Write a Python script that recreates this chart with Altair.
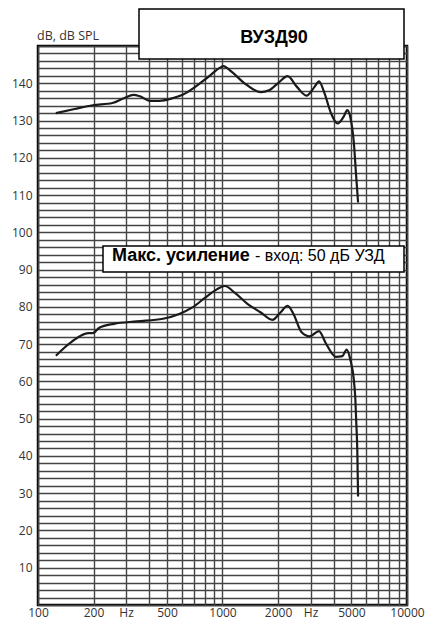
import altair as alt
import pandas as pd

# Upper curve: OSPL90 (dB SPL)
freq_upper = [125, 158, 198, 253, 292, 330, 357, 404, 456, 537,
              608, 715, 841, 971, 1009, 1119, 1316, 1614, 1786, 2018,
              2253, 2525, 2852, 3160, 3333, 3573, 3873, 4200, 4555, 4745,
              4940, 5150, 5300, 5430]
spl_upper = [132.0, 133.1, 134.1, 134.7, 136.0, 136.9, 136.5, 135.3, 135.3, 136.0,
             136.9, 139.1, 141.8, 144.2, 144.6, 143.1, 140.0, 137.6, 138.1, 140.2,
             141.9, 139.1, 136.7, 139.1, 140.5, 137.3, 132.0, 129.2, 131.2, 132.8,
             130.7, 124.1, 115.2, 108.0]

# Lower curve: max gain (dB)
freq_lower = [125, 152, 187, 198, 215, 258, 343, 476, 583, 687,
              807, 931, 1031, 1164, 1370, 1614, 1861, 2061, 2253, 2425,
              2685, 2973, 3333, 3642, 4111, 4467, 4710, 4940, 5150, 5250,
              5300, 5380, 5430]
gain_lower = [66.9, 70.6, 72.95, 72.95, 74.4, 75.45, 76.1, 76.8, 78.1, 79.85,
              82.5, 84.7, 85.6, 83.8, 80.75, 78.5, 76.5, 78.5, 80.3, 78.1,
              73.2, 72.1, 73.5, 70.1, 66.6, 66.8, 68.55, 65.7, 60.4, 55.1,
              49.8, 41.0, 29.1]

x_grid = [100, 200, 300, 400, 500, 600, 700, 800, 900,
          1000, 2000, 3000, 4000, 5000, 6000, 7000, 8000, 9000, 10000]
y_grid = list(range(0, 151, 2))

title_text = "ВУЗД90"
legend_bold = "Макс. усиление"
legend_regular = "- вход: 50 дБ УЗД"
y_title = "dB, dB SPL"

df = pd.concat([
    pd.DataFrame({"f": freq_upper, "db": spl_upper, "s": "ospl"}),
    pd.DataFrame({"f": freq_lower, "db": gain_lower, "s": "gain"}),
])

x_enc = alt.X(
    "f:Q",
    scale=alt.Scale(type="log", domain=[100, 10000], nice=False),
    axis=alt.Axis(
        values=x_grid, grid=True, gridColor="#444", gridWidth=1.4,
        ticks=False, domain=False, title=None,
        labelExpr="indexof([100,200,500,1000,2000,5000,10000], datum.value) >= 0 ? toString(datum.value) : ((datum.value == 300 || datum.value == 3000) ? 'Hz' : '')",
        labelFont="Open Sans", labelFontSize=12, labelColor="#333",
        labelPadding=2, labelFlush=False, labelOverlap=False, labelBound=False,
    ),
)
y_enc = alt.Y(
    "db:Q",
    scale=alt.Scale(domain=[0, 150], nice=False, zero=False),
    axis=alt.Axis(
        values=y_grid, grid=True, gridColor="#444", gridWidth=1.4,
        ticks=False, domain=False, title=None,
        labelExpr="(datum.value % 10 == 0 && datum.value > 0 && datum.value < 150) ? toString(datum.value) : ''",
        labelFont="Open Sans", labelFontSize=12, labelColor="#333",
        labelPadding=6, labelOverlap=False, labelBound=False,
    ),
)

lines = alt.Chart(df).mark_line(
    interpolate="monotone", color="#1a1a1a", strokeWidth=2.2
).encode(x=x_enc, y=y_enc, detail="s:N")

one = alt.Data(values=[{"a": 1}])

title_box = alt.Chart(one).mark_rect(
    fill="white", stroke="black", strokeWidth=1.5
).encode(x=alt.value(101), x2=alt.value(366), y=alt.value(-37), y2=alt.value(13))

title_lbl = alt.Chart(one).mark_text(
    text=title_text, font="Liberation Sans", fontWeight="bold", fontSize=18,
    align="center", baseline="alphabetic", color="black"
).encode(x=alt.value(236), y=alt.value(-3))

legend_box = alt.Chart(one).mark_rect(
    fill="white", stroke="black", strokeWidth=1.5
).encode(x=alt.value(65), x2=alt.value(366), y=alt.value(200), y2=alt.value(226))

legend_b = alt.Chart(one).mark_text(
    text=legend_bold, font="Liberation Sans", fontWeight="bold", fontSize=18,
    align="left", baseline="alphabetic", color="black"
).encode(x=alt.value(74), y=alt.value(215))

legend_r = alt.Chart(one).mark_text(
    text=legend_regular, font="Liberation Sans", fontSize=16,
    align="left", baseline="alphabetic", color="black"
).encode(x=alt.value(217), y=alt.value(215))

ytitle = alt.Chart(one).mark_text(
    text=y_title, font="Open Sans", fontSize=12.5,
    align="left", baseline="alphabetic", color="#333"
).encode(x=alt.value(-1), y=alt.value(-6))

chart = alt.layer(
    lines, title_box, title_lbl, legend_box, legend_b, legend_r, ytitle
).properties(
    width=369, height=559,
    autosize=alt.AutoSizeParams(type="none"),
    padding={"left": 30, "top": 38, "right": 19, "bottom": 19},
    background="white",
).configure_view(stroke="black", strokeWidth=2.5)

chart.save("out.html", embed_options={"renderer": "svg", "actions": False})
